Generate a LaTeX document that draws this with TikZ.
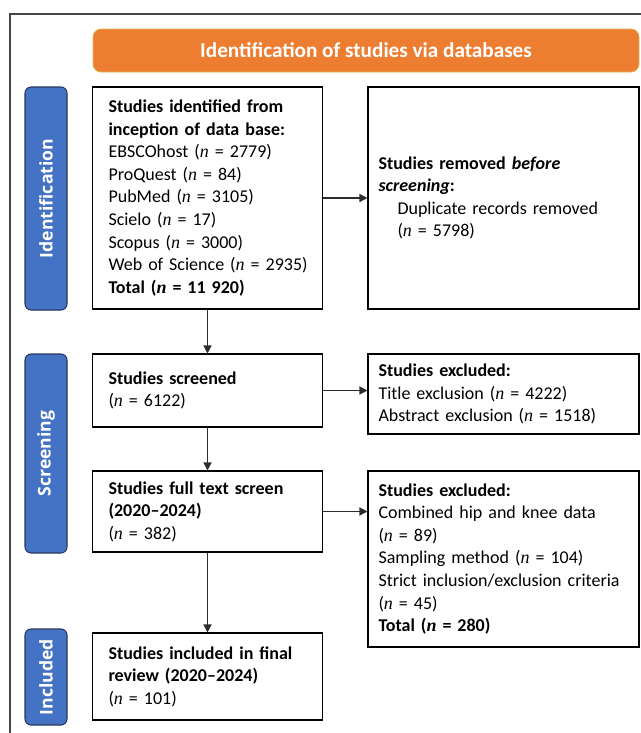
\documentclass[tikz,border=0pt]{standalone}
\usepackage{fontspec}
\usepackage{tikz}
\setmainfont{Carlito}
\newfontfamily\phasefont{Open Sans}
\newfontfamily\nfont{Liberation Serif}
\usetikzlibrary{positioning,arrows.meta}
\definecolor{bannerorange}{RGB}{237,125,49}
\definecolor{bannerline}{RGB}{222,180,84}
\definecolor{phaseblue}{RGB}{68,114,196}
\definecolor{phaseline}{RGB}{38,56,92}
\definecolor{framegray}{RGB}{70,70,70}
\definecolor{arrowgray}{RGB}{45,45,45}
\newdimen\pxu
\pxu=0.75pt
\newcommand{\nn}{{\nfont\itshape n}}

\begin{document}
\begin{tikzpicture}[x=0.75pt, y=-0.75pt,
    phase/.style={draw=phaseline, line width=0.8pt, fill=phaseblue, rounded corners=4.5pt, rotate=90, minimum height=42\pxu, inner sep=0pt, text=white, font=\phasefont\bfseries\fontsize{13.2}{15}\selectfont},
    stage/.style={draw, line width=0.8pt, align=left, font=\fontsize{13.5}{16.9}\selectfont, text width=198\pxu, inner xsep=16\pxu, inner ysep=0pt},
    result/.style={stage, text width=250\pxu, inner xsep=10.5\pxu},
    flow/.style={-{Triangle[length=6pt,width=6pt]}, line width=1pt, draw=arrowgray}
]
\useasboundingbox (0,0) rectangle (641,733);

\draw[framegray, line width=0.8pt] (10,733) -- (10,14) -- (641,14);

\node[draw=bannerline, line width=0.6pt, fill=bannerorange, rounded corners=6pt, minimum width=546\pxu, minimum height=43\pxu, text=white, font=\bfseries\fontsize{15.9}{18}\selectfont] (banner) at (366,50.5) {Identification of studies via databases};

\node[phase, minimum width=223\pxu] (identphase) at (46,198.5) {Identification};
\node[phase, minimum width=199\pxu] (screenphase) at (46,453.5) {Screening};
\node[phase, minimum width=96\pxu] (inclphase) at (46,677) {Included};

\node[stage, minimum height=222\pxu] (identified) at (207.5,198) {\textbf{Studies identified from}\\\textbf{inception of data base:}\\EBSCOhost (\nn{} = 2779)\\ProQuest (\nn{} = 84)\\PubMed (\nn{} = 3105)\\Scielo (\nn{} = 17)\\Scopus (\nn{} = 3000)\\\mbox{Web of Science (\nn{} = 2935)}\\\textbf{Total (\nn{} = 11 920)}};
\node[result, minimum height=222\pxu] (removed) at (503.5,198) {\textbf{Studies removed \textit{before}}\\\textbf{\textit{screening}:}\\\hspace*{14.25pt}Duplicate records removed\\\hspace*{14.25pt}(\nn{} = 5798)};

\node[stage, minimum height=73\pxu] (screened) at (207.5,390.5) {\textbf{Studies screened}\\(\nn{} = 6122)};
\node[result, minimum height=80\pxu] (excluded1) at (503.5,394) {\textbf{Studies excluded:}\\Title exclusion (\nn{} = 4222)\\Abstract exclusion (\nn{} = 1518)};

\node[stage, minimum height=81\pxu] (fulltext) at (207.5,511.5) {\textbf{Studies full text screen}\\\textbf{(2020--2024)}\\(\nn{} = 382)};
\node[result, minimum height=176\pxu] (excluded2) at (503.5,559) {\textbf{Studies excluded:}\\Combined hip and knee data\\(\nn{} = 89)\\Sampling method (\nn{} = 104)\\Strict inclusion/exclusion criteria\\(\nn{} = 45)\\\textbf{Total (\nn{} = 280)}};

\node[stage, minimum height=87\pxu] (included) at (207.5,676.5) {\textbf{Studies included in final}\\\textbf{review (2020--2024)}\\(\nn{} = 101)};

\draw[flow] (identified) -- (removed);
\draw[flow] (identified) -- (screened);
\draw[flow] (screened.east) -- (screened.east -| excluded1.west);
\draw[flow] (screened) -- (fulltext);
\draw[flow] (fulltext.east) -- (fulltext.east -| excluded2.west);
\draw[flow] (fulltext) -- (included);

\end{tikzpicture}
\end{document}
